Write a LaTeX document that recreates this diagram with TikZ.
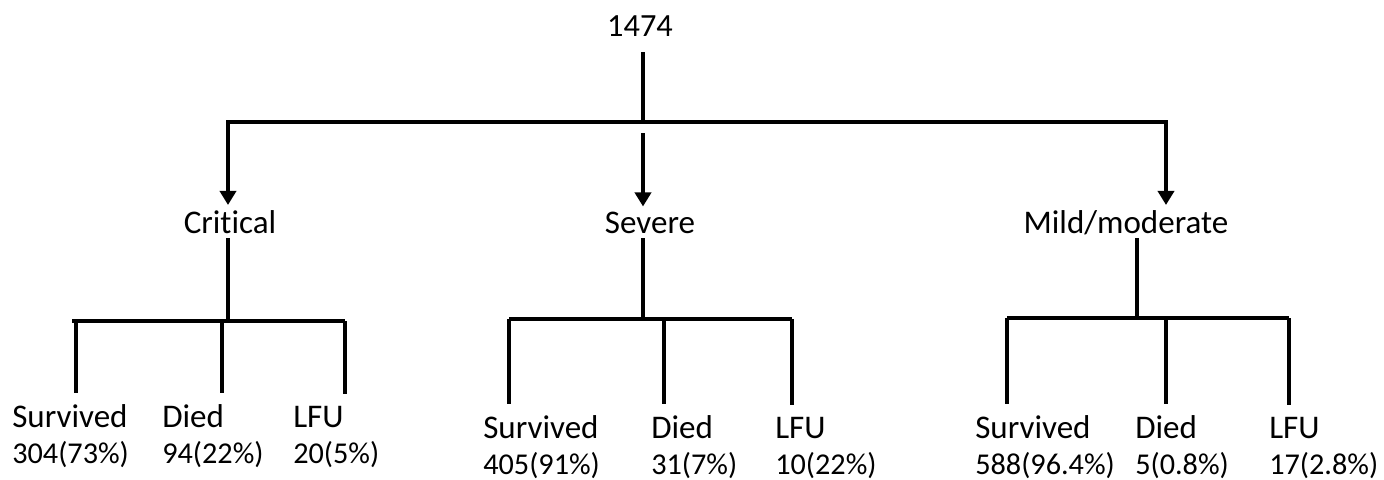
\documentclass[tikz,border=0pt]{standalone}
\usepackage{fontspec}
\setmainfont{Carlito}[Ligatures=NoCommon]
\usetikzlibrary{arrows.meta,calc,positioning}

\begin{document}
\begin{tikzpicture}[x=0.025cm,y=-0.025cm,
        every node/.style={font=\fontsize{23.5}{28}\selectfont,inner sep=0pt},
        line/.style={line width=2.8pt},
        arr/.style={line,-{Triangle[width=0.4cm,length=0.35cm]}},
        lab/.style={anchor=base,inner ysep=0.12cm},
        leaf/.style={anchor=base west,inner ysep=0.28cm},
        count/.style={anchor=base west,font=\fontsize{21.5}{26}\selectfont}]
        \useasboundingbox (0,0) rectangle (1384,480);
        \node [anchor=base,font=\fontsize{23}{28}\selectfont] (root) at (640,36) {1474};
        \node [lab] (crit) at (230,233) {Critical};
        \node [lab] (sev) at (650,233) {Severe};
        \node [lab] (mild) at (1126,233) {Mild/moderate};
        \coordinate (tl) at (228,122);
        \coordinate (tm) at (643,122);
        \coordinate (tr) at (1166,122);
        \draw [line] (root.base -| tm) ++(0,16) -- (tm);
        \draw [arr] (tm) -| (tl |- crit.north);
        \draw [arr] (tm) -| (tr |- mild.north);
        \draw [arr] (tm) ++(0,11) -- (tm |- sev.north);
        \foreach \n/\x/\y/\a/\b in {cs/12/427/Survived/304(73\%), cd/162/427/Died/94(22\%), cl/293/427/LFU/20(5\%),
            ss/483/438/Survived/405(91\%), sd/651/438/Died/31(7\%), sl/775/438/LFU/10(22\%),
            ms/975/438/Survived/588(96.4\%), md/1135/438/Died/5(0.8\%), ml/1269/438/LFU/17(2.8\%)}{
            \node [leaf] (\n) at (\x,\y) {\a};
            \node [count] (\n-n) at (\x,\y+36) {\b};
        }
        \coordinate (jc) at (228,321);
        \coordinate (js) at (643,319);
        \coordinate (jm) at (1137,318);
        \draw [line] (crit.base -| jc) ++(0,5) -- (jc);
        \draw [line] (sev.base -| js) ++(0,5) -- (js);
        \draw [line] (mild.base -| jm) ++(0,5) -- (jm);
        \draw [line] (72,321) -- (345,321);
        \draw [line] (509,319) -- (792,319);
        \draw [line] (1007,318) -- (1289,318);
        \foreach \n/\x/\y in {cs/76/321, cd/222/321, cl/345/321, ss/509/319, sd/664/319, sl/792/319,
            md/1166/318, ms/1007/318, ml/1289/318}
            \draw [line] (\x,\y) -- (\x,\y |- \n.north);
    \end{tikzpicture}
\end{document}
